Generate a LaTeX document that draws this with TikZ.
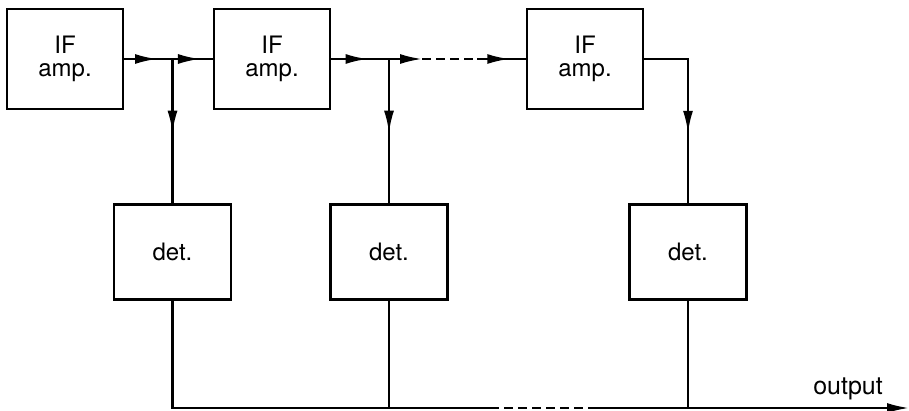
\documentclass[tikz,border=0pt]{standalone}
\usepackage{fontspec}
\setmainfont{TeX Gyre Heros}
\usetikzlibrary{arrows.meta,decorations.markings}
\begin{document}
\begin{tikzpicture}[x=0.5pt,y=0.5pt,line width=1.1pt,
  box/.style={draw,rectangle,inner sep=0pt,font=\fontsize{12}{11.5}\selectfont,align=center},
  ampbox/.style={box,minimum width=58pt,minimum height=50pt},
  detbox/.style={box,minimum width=58.5pt,minimum height=47.5pt},
  tip/.style={-{Latex[length=11pt,width=5pt]}},
  midarrow/.style={postaction={decorate},decoration={markings,mark=at position #1 with {\arrow{Latex[length=11pt,width=5pt]}}}},
  dashline/.style={dash pattern=on 4.5pt off 2.5pt}]
\useasboundingbox (0,0) rectangle (909,411);
\node[ampbox] (amp1) at (65,352) {IF\\amp.};
\node[ampbox] (amp2) at (272,352) {IF\\amp.};
\node[ampbox] (amp3) at (585,352) {IF\\amp.};
\node[detbox] (det1) at (172.5,159) {det.};
\node[detbox] (det2) at (389,159) {det.};
\node[detbox] (det3) at (688,159) {det.};
\coordinate (b1) at (172.5,352);
\coordinate (b2) at (389,352);
\coordinate (g1) at (422,352);
\coordinate (g2) at (477,352);
\coordinate (h1) at (490,3);
\coordinate (h2) at (593,3);
\coordinate (out) at (909,3);
\node[font=\fontsize{12.5}{14}\selectfont,anchor=base] (outlbl) at (848,16) {output};
% signal chain
\draw[midarrow=0.68] (amp1.east) -- (b1);
\draw[midarrow=0.68] (b1) -- (amp2.west);
\draw[midarrow=0.63] (amp2.east) -- (b2);
\draw[tip] (b2) -- (g1);
\draw[dashline] (g1) -- (g2);
\draw[midarrow=0.66] (g2) -- (amp3.west);
\foreach \u/\v in {b1/det1,b2/det2}
  \draw[midarrow=0.51] (\u) -- (\v.north);
\draw[midarrow=0.625] (amp3.east) -| (det3.north);
% output bus
\draw (det1.south) |- (h1);
\draw[dashline] (h1) -- (h2);
\draw[tip] (h2) -- (out);
\draw (det2.south) -- (det2.south |- h1);
\draw (det3.south) -- (det3.south |- out);
\end{tikzpicture}
\end{document}
